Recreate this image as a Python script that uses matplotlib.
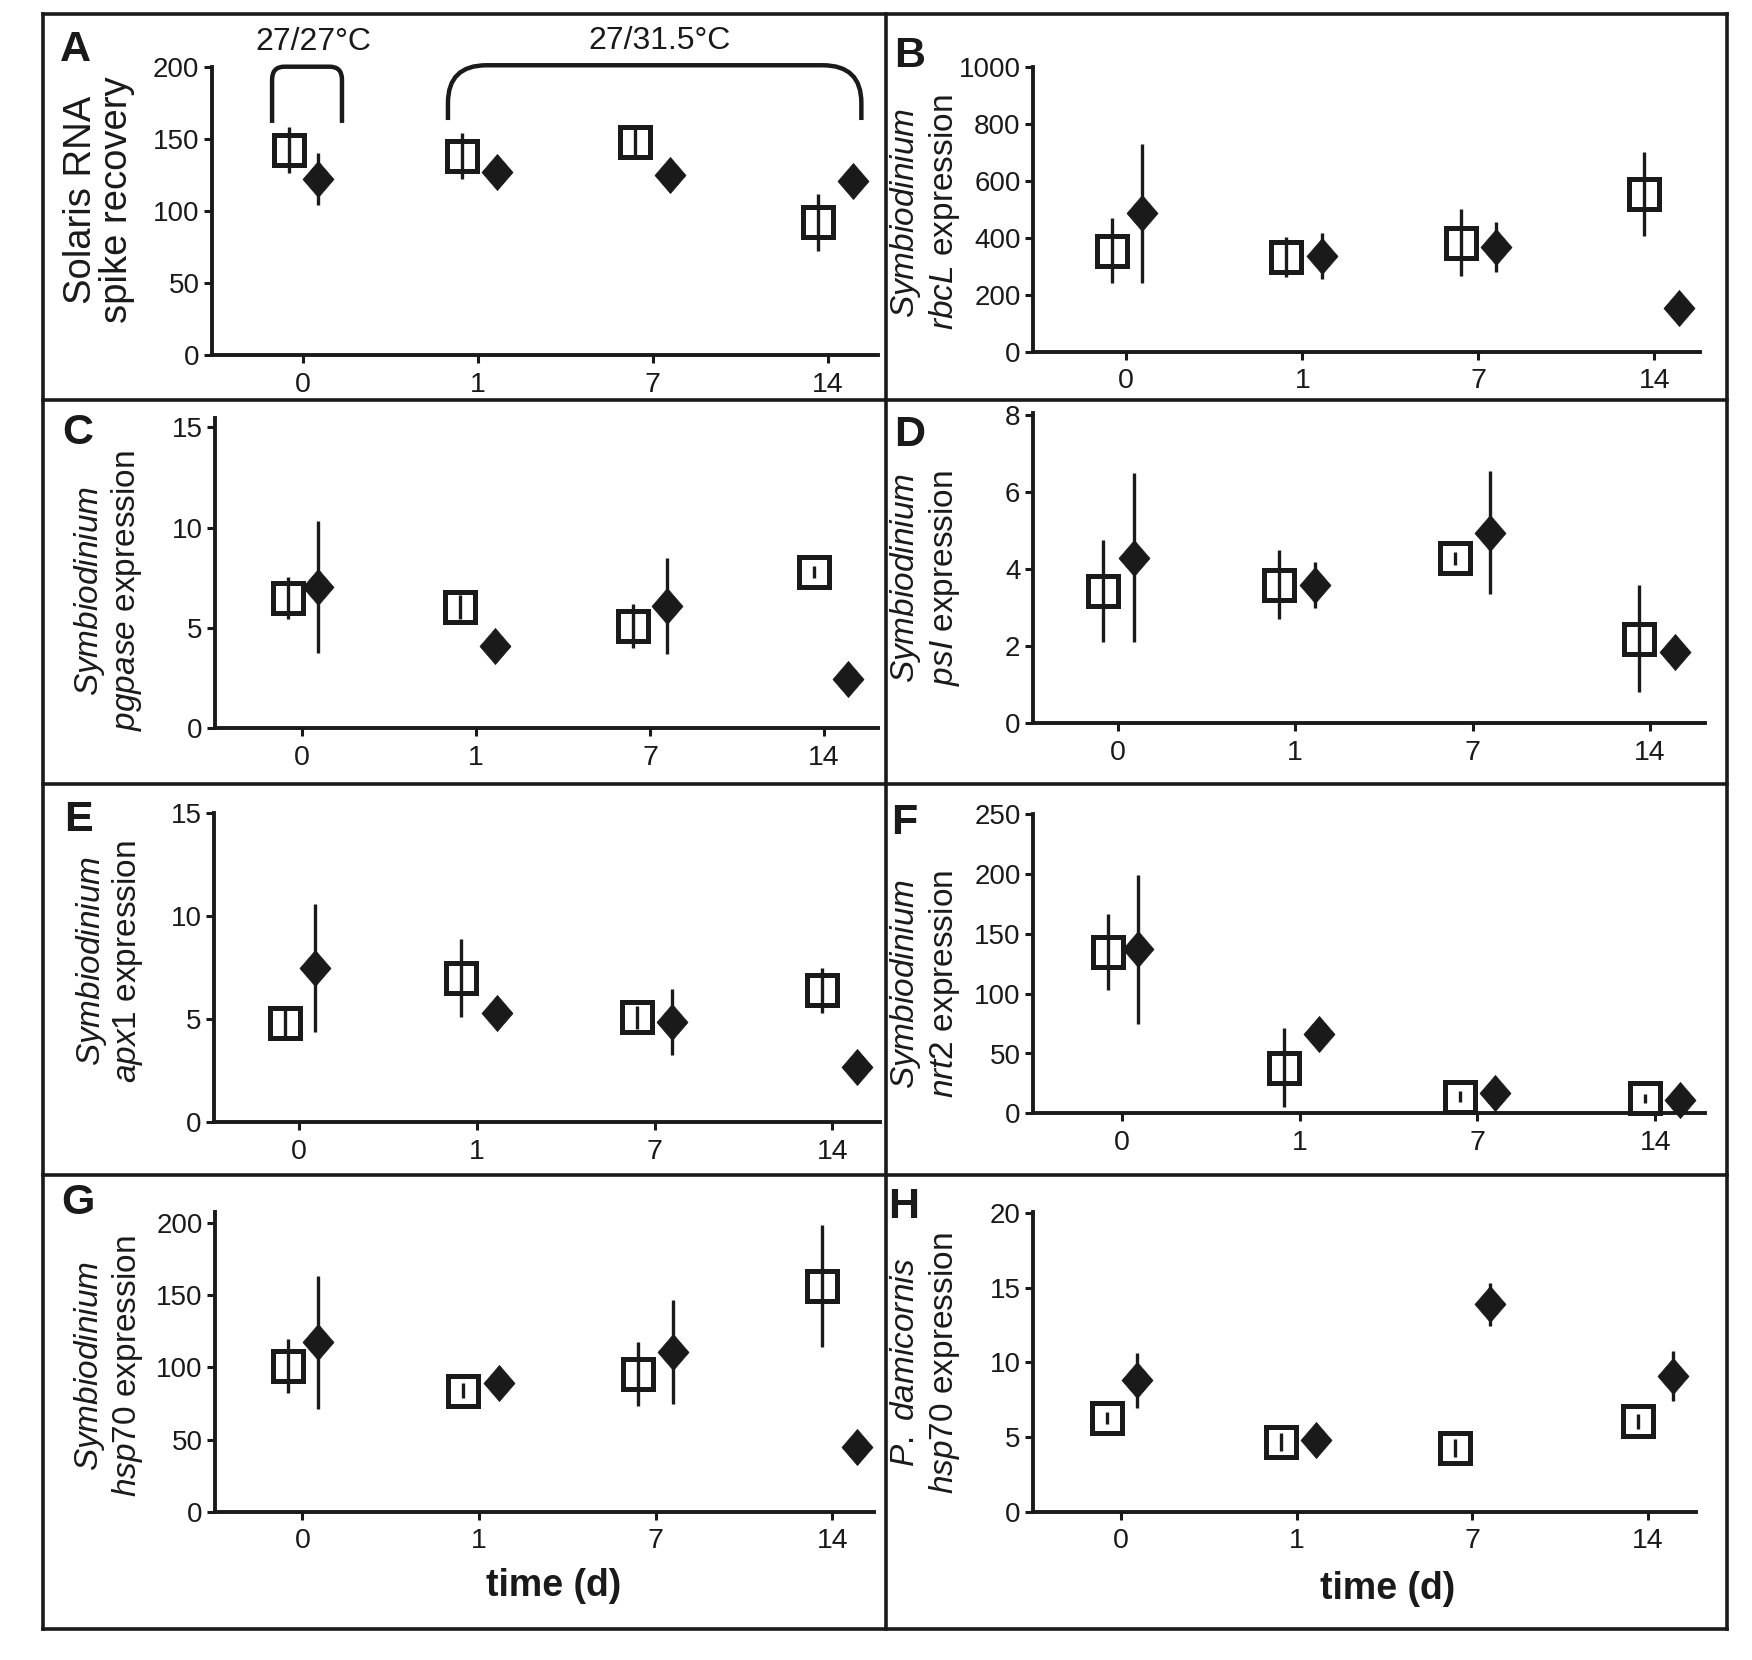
import numpy as np
import matplotlib
matplotlib.use("Agg")
import matplotlib.pyplot as plt
from matplotlib.path import Path
from matplotlib.patches import PathPatch
from matplotlib.lines import Line2D

plt.rcParams['font.family'] = ['Liberation Sans', 'DejaVu Sans']
plt.rcParams['mathtext.fontset'] = 'custom'
plt.rcParams['mathtext.rm'] = 'Liberation Sans'
plt.rcParams['mathtext.it'] = 'Liberation Sans:italic'
plt.rcParams['mathtext.bf'] = 'Liberation Sans:bold'

INK = '#1a1a1a'

# ---- data (mean, error) : open squares = 27/27, filled diamonds = 27/31.5 ----
days = ['0', '1', '7', '14']

a_ctrl = [142, 138, 148, 92]
a_ctrl_err = [16, 16, 9, 20]
a_heat = [122, 127, 125, 121]
a_heat_err = [18, 4, 4, 4]

b_ctrl = [355, 333, 382, 553]
b_ctrl_err = [115, 70, 118, 146]
b_heat = [485, 336, 368, 152]
b_heat_err = [245, 80, 88, 20]

c_ctrl = [6.5, 6.05, 5.1, 7.8]
c_ctrl_err = [1.05, 0.6, 1.1, 0.3]
c_heat = [7.05, 4.1, 6.1, 2.45]
c_heat_err = [3.3, 0.3, 2.4, 0.3]

d_ctrl = [3.43, 3.6, 4.28, 2.2]
d_ctrl_err = [1.33, 0.9, 0.17, 1.4]
d_heat = [4.3, 3.6, 4.95, 1.86]
d_heat_err = [2.2, 0.6, 1.6, 0.15]

e_ctrl = [4.8, 7.0, 5.1, 6.4]
e_ctrl_err = [0.7, 1.9, 0.55, 1.07]
e_heat = [7.5, 5.3, 4.85, 2.67]
e_heat_err = [3.1, 0.2, 1.6, 0.2]

f_ctrl = [135, 38, 14, 12.5]
f_ctrl_err = [32, 33, 4.5, 4]
f_heat = [137, 66, 17, 11]
f_heat_err = [62, 3, 3, 3]

g_ctrl = [101, 84, 95.5, 156.5]
g_ctrl_err = [19, 5, 22, 42]
g_heat = [117.5, 89, 111, 45]
g_heat_err = [46, 3, 36, 3]

h_ctrl = [6.3, 4.7, 4.25, 6.05]
h_ctrl_err = [0.4, 0.6, 0.6, 0.5]
h_heat = [8.8, 4.8, 13.9, 9.1]
h_heat_err = [1.85, 0.2, 1.45, 1.7]

# ---- layout ----
sq_off = np.array([-0.08, -0.09, -0.10, -0.06])
dia_off = np.array([0.09, 0.11, 0.10, 0.14])

W, H = 1752, 1660
fig = plt.figure(figsize=(W / 100, H / 100), dpi=100)


def px_axes(left, right, top, bottom):
    return [left / W, 1 - bottom / H, (right - left) / W, (bottom - top) / H]


DIAMOND = Path([(0, 1), (0.86, 0), (0, -1), (-0.86, 0), (0, 1)],
               [Path.MOVETO, Path.LINETO, Path.LINETO, Path.LINETO, Path.CLOSEPOLY])

RX = (0.517, 0.539)  # label columns, right-hand panels

panels = [
    # letter, rect(px), xlim, ylim, yticks, data, label lines, label size, label x (fig), label y (fig), letter pos
    ('A', px_axes(212, 878, 66.7, 355), (-0.517, 3.285), (0, 200), [0, 50, 100, 150, 200],
     (a_ctrl, a_ctrl_err, a_heat, a_heat_err),
     ('Solaris RNA', 'spike recovery'), 27.5, (0.046, 0.067), 0.8795, (0.043, 0.970)),
    ('B', px_axes(1033, 1700, 66.7, 351.7), (-0.53, 3.26), (0, 1000), [0, 200, 400, 600, 800, 1000],
     (b_ctrl, b_ctrl_err, b_heat, b_heat_err),
     (r'$\mathit{Symbiodinium}$', r'$\mathit{rbcL}$ expression'), 24, RX, 0.872, (0.519, 0.966)),
    ('C', px_axes(215, 878, 418.3, 728.3), (-0.50, 3.31), (0, 15.45), [0, 5, 10, 15],
     (c_ctrl, c_ctrl_err, c_heat, c_heat_err),
     (r'$\mathit{Symbiodinium}$', r'$\mathit{pgpase}$ expression'), 24, (0.051, 0.072), 0.644, (0.0445, 0.739)),
    ('D', px_axes(1033, 1705, 413.3, 723.3), (-0.477, 3.31), (0, 8.05), [0, 2, 4, 6, 8],
     (d_ctrl, d_ctrl_err, d_heat, d_heat_err),
     (r'$\mathit{Symbiodinium}$', r'$\mathit{psI}$ expression'), 24, RX, 0.652, (0.519, 0.738)),
    ('E', px_axes(214, 879.5, 813.3, 1122.3), (-0.48, 3.265), (0, 15), [0, 5, 10, 15],
     (e_ctrl, e_ctrl_err, e_heat, e_heat_err),
     (r'$\mathit{Symbiodinium}$', r'$\mathit{apx1}$ expression'), 24, (0.052, 0.073), 0.421, (0.0445, 0.506)),
    ('F', px_axes(1033, 1705, 814.3, 1113.3), (-0.50, 3.28), (0, 250), [0, 50, 100, 150, 200, 250],
     (f_ctrl, f_ctrl_err, f_heat, f_heat_err),
     (r'$\mathit{Symbiodinium}$', r'$\mathit{nrt2}$ expression'), 24, RX, 0.407, (0.516, 0.504)),
    ('G', px_axes(215, 873.7, 1211.7, 1511.7), (-0.495, 3.234), (0, 208), [0, 50, 100, 150, 200],
     (g_ctrl, g_ctrl_err, g_heat, g_heat_err),
     (r'$\mathit{Symbiodinium}$', r'$\mathit{hsp70}$ expression'), 24, (0.051, 0.073), 0.177, (0.0445, 0.275)),
    ('H', px_axes(1033, 1695.6, 1211.7, 1511.7), (-0.50, 3.27), (0, 20.1), [0, 5, 10, 15, 20],
     (h_ctrl, h_ctrl_err, h_heat, h_heat_err),
     (r'$\mathit{P.\ damicornis}$', r'$\mathit{hsp70}$ expression'), 24, RX, 0.179, (0.516, 0.273)),
]

axes = {}
for letter, rect, xlim, ylim, yticks, data, lines, lsize, lx, ly, lpos in panels:
    ctrl, ctrl_err, heat, heat_err = data
    ax = fig.add_axes(rect)
    axes[letter] = ax
    x = np.arange(len(days))

    # open squares (control)
    ax.errorbar(x + sq_off, ctrl, yerr=ctrl_err, fmt='none', ecolor=INK,
                elinewidth=2.4, capsize=0, zorder=2, clip_on=False)
    ax.plot(x + sq_off, ctrl, ls='none', marker='s', ms=21.5, mfc='none',
            mec=INK, mew=3.6, zorder=3, clip_on=False)
    # filled diamonds (heated)
    ax.errorbar(x + dia_off, heat, yerr=heat_err, fmt='none', ecolor=INK,
                elinewidth=2.4, capsize=0, zorder=2, clip_on=False)
    ax.plot(x + dia_off, heat, ls='none', marker=DIAMOND, ms=26, mfc=INK,
            mec=INK, mew=0.5, zorder=4, clip_on=False)

    ax.set_xlim(*xlim)
    ax.set_ylim(*ylim)
    ax.set_xticks(x)
    ax.set_xticklabels(days)
    ax.set_yticks(yticks)
    for side in ('top', 'right'):
        ax.spines[side].set_visible(False)
    for side in ('left', 'bottom'):
        ax.spines[side].set_linewidth(2.8)
        ax.spines[side].set_color(INK)
    ax.tick_params(axis='y', length=6, width=2.2, pad=3, labelsize=20, colors=INK)
    ax.tick_params(axis='x', length=6, width=2.2, pad=6, labelsize=20.5, colors=INK)
    ax.patch.set_visible(False)

    # two-line y label
    fig.text(lx[0], ly, lines[0], rotation=90, ha='center', va='center',
             fontsize=lsize, color=INK)
    fig.text(lx[1], ly, lines[1], rotation=90, ha='center', va='center',
             fontsize=lsize, color=INK)
    # panel letter
    fig.text(lpos[0], lpos[1], letter, ha='center', va='center',
             fontsize=31, fontweight='bold', color=INK)


def bracket(ax, x0, x1, y0, y1, rx, ry):
    verts = [(x0, y0), (x0, y1 - ry), (x0, y1), (x0 + rx, y1),
             (x1 - rx, y1), (x1, y1), (x1, y1 - ry), (x1, y0)]
    codes = [Path.MOVETO, Path.LINETO, Path.CURVE3, Path.CURVE3,
             Path.LINETO, Path.CURVE3, Path.CURVE3, Path.LINETO]
    ax.add_patch(PathPatch(Path(verts, codes), fill=False, lw=3.2,
                           edgecolor=INK, clip_on=False, capstyle='butt'))


axA = axes['A']
bracket(axA, -0.174, 0.225, 161, 200, 0.07, 9)
bracket(axA, 0.83, 3.19, 163, 201, 0.22, 26)
axA.text(0.06, 217, '27/27\u00b0C', ha='center', va='center', fontsize=23,
         color=INK, clip_on=False)
axA.text(2.04, 218, '27/31.5\u00b0C', ha='center', va='center', fontsize=23,
         color=INK, clip_on=False)

# x axis titles
fig.text(0.316, 0.0446, 'time (d)', ha='center', va='center', fontsize=27,
         fontweight='bold', color=INK)
fig.text(0.792, 0.0428, 'time (d)', ha='center', va='center', fontsize=27,
         fontweight='bold', color=INK)

# panel frame
frame_lw = 2.6
L, R, B, T = 0.0245, 0.986, 0.0185, 0.9913
MID = 0.5056
for (xs, ys) in [((L, R), (T, T)), ((L, R), (B, B)), ((L, L), (B, T)), ((R, R), (B, T)),
                 ((MID, MID), (B, T)),
                 ((L, R), (0.759, 0.759)), ((L, R), (0.528, 0.528)), ((L, R), (0.2922, 0.2922))]:
    fig.add_artist(Line2D(xs, ys, transform=fig.transFigure, color=INK,
                          lw=frame_lw, solid_capstyle='projecting'))

fig.savefig('out.png', dpi=100, facecolor='white')
